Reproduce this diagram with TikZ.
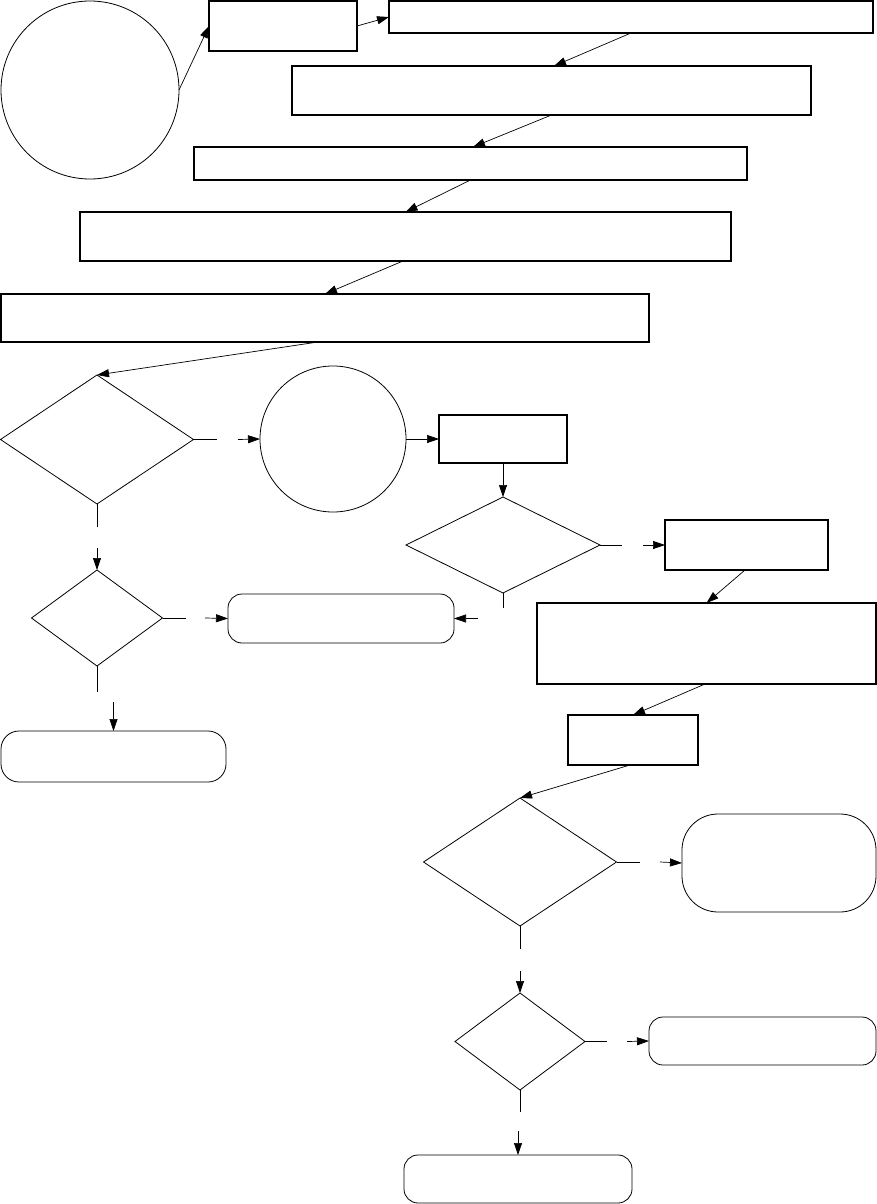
\documentclass[tikz,border=0pt]{standalone}
\usetikzlibrary{shapes.geometric,arrows.meta}
\begin{document}
\begin{tikzpicture}[x=1pt,y=-1pt,
  box/.style={draw,rectangle,line width=1.1pt,inner sep=0pt,outer sep=0pt},
  term/.style={draw,rectangle,line width=0.8pt,inner sep=0pt,outer sep=0pt,rounded corners=14pt},
  dec/.style={draw,diamond,line width=0.8pt,inner sep=0pt,outer sep=0pt},
  circ/.style={draw,circle,line width=0.8pt,inner sep=0pt,outer sep=0pt},
  arr/.style={-{Triangle[length=12pt,width=8pt]},line width=0.7pt},
  stub/.style={line width=0.9pt}]
\useasboundingbox (0,0) rectangle (877,1204);
% top chain
\node[circ,minimum size=178pt] (c1) at (90,90) {};
\node[box,minimum width=148pt,minimum height=50pt] (a) at (283,26) {};
\node[box,minimum width=484pt,minimum height=32pt] (b) at (631,17) {};
\node[box,minimum width=519pt,minimum height=49pt] (c) at (551.5,90.5) {};
\node[box,minimum width=553pt,minimum height=33pt] (d) at (470.5,163.5) {};
\node[box,minimum width=651pt,minimum height=49pt] (e) at (405.5,236.5) {};
\node[box,minimum width=648pt,minimum height=48pt] (f) at (325,318) {};
% decisions and others
\node[dec,minimum width=193pt,minimum height=129pt] (d1) at (97,439.5) {};
\node[circ,minimum size=146pt] (c2) at (333,439) {};
\node[box,minimum width=128pt,minimum height=48pt] (g) at (503,439) {};
\node[dec,minimum width=194pt,minimum height=96pt] (d3) at (503,545) {};
\node[box,minimum width=163pt,minimum height=50pt] (h) at (746.5,545) {};
\node[box,minimum width=339pt,minimum height=81pt] (i) at (706.5,643.5) {};
\node[box,minimum width=130pt,minimum height=50pt] (j) at (633,740) {};
\node[dec,minimum width=193pt,minimum height=128pt] (d4) at (520,862) {};
\node[dec,minimum width=130pt,minimum height=97pt] (d5) at (520,1041.5) {};
\node[dec,minimum width=131pt,minimum height=96pt] (d2) at (97,618) {};
\node[term,minimum width=226pt,minimum height=49pt] (t1) at (341,618.5) {};
\node[term,minimum width=225pt,minimum height=51pt,rounded corners=18pt] (t5) at (113.5,756.5) {};
\node[term,minimum width=194pt,minimum height=98pt,rounded corners=36pt] (t2) at (779,863) {};
\node[term,minimum width=227pt,minimum height=48pt] (t3) at (762.5,1041) {};
\node[term,minimum width=228pt,minimum height=48pt] (t4) at (518,1179) {};
% gap coordinates
\coordinate (g1a) at (217,439.5); \coordinate (g1b) at (238,439.5);
\coordinate (g2a) at (97,527); \coordinate (g2b) at (97,548);
\coordinate (g3a) at (186,618); \coordinate (g3b) at (205,618);
\coordinate (g4a) at (97,692); \coordinate (g4b) at (113.5,702);
\coordinate (g5a) at (622,545); \coordinate (g5b) at (643,545);
\coordinate (g6a) at (503,608); \coordinate (g6b) at (478,618.5);
\coordinate (g7a) at (640,862); \coordinate (g7b) at (660,862);
\coordinate (g8a) at (520,949); \coordinate (g8b) at (520,971);
\coordinate (g9a) at (607,1041.5); \coordinate (g9b) at (627,1041.5);
\coordinate (g10a) at (520,1112); \coordinate (g10b) at (518,1131);
% connectors
\draw[arr] (c1.east) -- (a.west);
\draw[arr] (a.east) -- (b.west);
\draw[arr] (b.south) -- ([xshift=2.5pt]c.north);
\draw[arr] (c.south) -- ([xshift=2.5pt]d.north);
\draw[arr] (d.south) -- (e.north);
\draw[arr] ([xshift=-2.5pt]e.south) -- (f.north);
\draw[arr] ([xshift=-7pt]f.south) -- (d1.north);
\draw[stub] (d1.east) -- (g1a); \draw[arr] (g1b) -- (c2.west);
\draw[arr] (c2.east) -- (g.west);
\draw[arr] (g.south) -- (d3.north);
\draw[stub] (d3.east) -- (g5a); \draw[arr] (g5b) -- (h.west);
\draw[stub] (d3.south) -- (g6a); \draw[arr] (g6b) -- (t1.east);
\draw[arr] ([xshift=-1.5pt]h.south) -- (i.north);
\draw[arr] ([xshift=-1.5pt]i.south) -- (j.north);
\draw[arr] ([xshift=-3pt]j.south) -- (d4.north);
\draw[stub] (d4.east) -- (g7a); \draw[arr] (g7b) -- (t2.west);
\draw[stub] (d4.south) -- (g8a); \draw[arr] (g8b) -- (d5.north);
\draw[stub] (d5.east) -- (g9a); \draw[arr] (g9b) -- (t3.west);
\draw[stub] (d5.south) -- (g10a); \draw[arr] (g10b) -- (t4.north);
\draw[stub] (d1.south) -- (g2a); \draw[arr] (g2b) -- (d2.north);
\draw[stub] (d2.east) -- (g3a); \draw[arr] (g3b) -- (t1.west);
\draw[stub] (d2.south) -- (g4a); \draw[arr] (g4b) -- (t5.north);
\end{tikzpicture}
\end{document}
